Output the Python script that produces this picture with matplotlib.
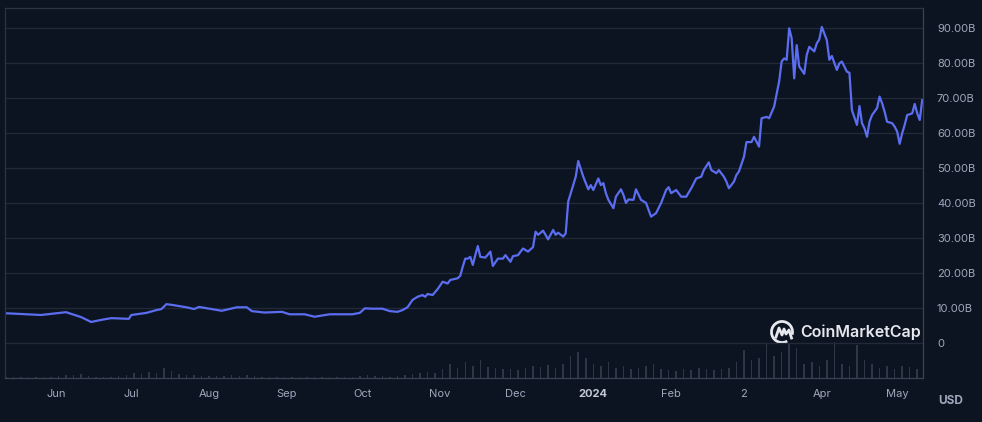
import matplotlib
matplotlib.use("Agg")
import matplotlib.pyplot as plt
import numpy as np
import pandas as pd
from matplotlib.patches import Arc

# ---------------- data ----------------
start_date = "2023-05-12"
# day offsets from start_date, and market cap (billions USD)
days = [0, 14, 24, 30, 34, 38, 42, 49, 50, 56, 60, 62, 64, 66, 72, 75, 77, 82, 86, 92,
        96, 98, 103, 110, 113, 119, 123, 129, 138, 141, 143, 146, 150, 153, 156, 158, 160,
        162, 164, 166, 167, 168, 170, 172, 174, 176, 177, 180, 181, 182, 183, 184, 185, 186,
        187, 188, 189, 191, 193, 194, 196, 198, 199, 201, 202, 204, 206, 208, 210, 211, 212,
        214, 216, 218, 219, 220, 222, 223, 224, 227, 228, 230, 232, 233, 234, 236, 237, 238,
        239, 240, 242, 243, 245, 246, 247, 248, 250, 251, 253, 255, 257, 259, 261, 263, 264,
        265, 267, 269, 271, 273, 275, 277, 278, 280, 281, 283, 284, 286, 287, 288, 290, 291,
        292, 294, 295, 297, 298, 300, 301, 303, 304, 306, 308, 309, 310, 311, 312, 313, 314,
        315, 316, 318, 319, 320, 322, 323, 324, 325, 327, 328, 329, 331, 332, 333, 335, 336,
        337, 339, 340, 341, 342, 343, 344, 345, 347, 348, 349, 350, 351, 353, 354, 355, 356,
        357, 358, 359, 361, 362, 363, 364, 365]
market_cap = [8.5, 8.0, 8.8, 7.4, 6.0, 6.6, 7.1, 6.9, 8.0, 8.6, 9.4, 9.7, 11.1, 10.9, 10.2,
              9.7, 10.3, 9.7, 9.2, 10.2, 10.2, 9.1, 8.7, 8.9, 8.2, 8.2, 7.5, 8.2, 8.2, 8.6,
              9.9, 9.8, 9.8, 9.1, 8.9, 9.4, 10.2, 12.3, 13.2, 13.7, 13.2, 14.0, 13.7, 15.4,
              17.5, 17.0, 18.0, 18.5, 19.2, 21.8, 24.1, 24.1, 24.6, 22.3, 25.1, 27.7, 24.6,
              24.4, 26.1, 22.0, 24.1, 24.1, 25.1, 23.2, 24.8, 25.1, 27.0, 26.1, 27.4, 31.8,
              30.9, 32.1, 29.6, 32.3, 30.9, 31.5, 30.4, 31.3, 40.4, 47.5, 52.0, 47.5, 43.9,
              45.1, 43.7, 47.0, 45.1, 45.7, 42.8, 40.9, 38.5, 41.8, 43.9, 42.3, 40.0, 41.0,
              40.9, 43.9, 40.9, 40.0, 36.1, 37.1, 40.0, 43.7, 44.5, 42.8, 43.7, 41.8, 41.8,
              44.2, 47.0, 47.5, 49.4, 51.6, 49.4, 48.5, 49.4, 47.5, 46.1, 44.2, 46.1, 48.0,
              49.0, 53.2, 57.4, 57.4, 58.9, 56.1, 64.2, 64.6, 64.2, 67.5, 74.7, 80.4, 81.3,
              80.9, 89.9, 87.0, 75.6, 85.1, 79.0, 76.9, 82.3, 84.6, 83.3, 85.6, 86.7, 90.3,
              86.5, 80.9, 82.0, 78.0, 79.9, 80.4, 77.5, 77.2, 66.5, 62.3, 67.7, 62.8, 61.3,
              58.9, 63.2, 65.1, 67.1, 70.4, 68.5, 66.1, 63.2, 62.8, 61.8, 60.4, 56.9, 59.9,
              62.3, 65.1, 65.6, 68.3, 65.6, 63.7, 69.4]

# trading volume (billions USD), one bar every 3 days from start_date
volume = [0.2, 0.2, 0.2, 0.2, 0.2, 0.3, 0.3, 0.4, 0.6, 0.6, 0.8, 0.4, 0.3, 0.3, 0.3, 0.4,
          0.6, 1.0, 0.8, 1.2, 1.0, 2.0, 1.4, 0.8, 0.6, 0.6, 0.4, 0.4, 0.4, 0.5, 0.6, 0.5,
          0.6, 0.4, 0.3, 0.3, 0.3, 0.3, 0.3, 0.2, 0.2, 0.2, 0.2, 0.2, 0.2, 0.2, 0.2, 0.4,
          0.6, 0.4, 0.4, 0.3, 0.4, 0.6, 0.8, 1.0, 1.2, 1.0, 1.8, 2.8, 2.0, 3.2, 2.4, 3.6,
          2.2, 2.0, 1.8, 1.8, 1.6, 2.0, 2.4, 2.2, 2.6, 2.0, 2.8, 4.4, 5.2, 4.0, 2.8, 2.4,
          3.2, 2.0, 2.4, 1.8, 2.0, 2.4, 2.8, 1.8, 1.6, 1.4, 1.8, 1.6, 2.0, 1.8, 1.6, 1.8,
          2.0, 3.2, 5.6, 3.6, 4.0, 6.8, 4.4, 5.2, 7.0, 6.0, 2.8, 3.2, 2.4, 3.6, 7.2, 2.8,
          2.4, 6.6, 3.6, 2.8, 2.0, 2.4, 1.8, 2.4, 2.2, 1.8]
volume_step_days = 3

x_tick_dates = ["2023-06-01", "2023-07-01", "2023-08-01", "2023-09-01", "2023-10-01",
                "2023-11-01", "2023-12-01", "2024-01-01", "2024-02-01", "2024-03-01",
                "2024-04-01", "2024-05-01"]
x_tick_labels = ["Jun", "Jul", "Aug", "Sep", "Oct", "Nov", "Dec", "2024", "Feb", "2",
                 "Apr", "May"]
y_ticks = [0, 10, 20, 30, 40, 50, 60, 70, 80, 90]
y_tick_labels = ["0", "10.00B", "20.00B", "30.00B", "40.00B", "50.00B", "60.00B",
                 "70.00B", "80.00B", "90.00B"]

# ---------------- style ----------------
BG = "#0d1421"
GRID = "#222a3a"
TEXT = "#a1a7bb"
LINE = "#5b6df0"
VOL = "#2f3648"

plt.rcParams["font.family"] = ["Inter", "DejaVu Sans"]

W, H = 982, 422
fig = plt.figure(figsize=(W / 100, H / 100), dpi=100, facecolor=BG)
left, right, top, bottom = 5, 923, 8, 378
ax = fig.add_axes([left / W, 1 - bottom / H, (right - left) / W, (bottom - top) / H])
ax.set_facecolor(BG)

t0 = pd.Timestamp(start_date)
dates = t0 + pd.to_timedelta(days, unit="D")
vol_dates = t0 + pd.to_timedelta(np.arange(len(volume)) * volume_step_days, unit="D")
end = t0 + pd.to_timedelta(365.3, unit="D")

# volume on a twin axis (bottom band)
axv = ax.twinx()
axv.set_zorder(1)
ax.set_zorder(2)
ax.patch.set_visible(False)
axv.set_facecolor(BG)
axv.bar(vol_dates, volume, width=0.6, color=VOL, linewidth=0, align="center")
axv.set_ylim(0, 74)
axv.set_yticks([])
for s in axv.spines.values():
    s.set_visible(False)

ax.plot(dates, market_cap, color=LINE, linewidth=1.6, solid_joinstyle="round")

ax.set_xlim(t0 - pd.Timedelta(days=0.3), end)
ax.set_ylim(-10, 95.7)

for v in y_ticks:
    ax.axhline(v, color=GRID, linewidth=0.9, zorder=0)

ax.yaxis.tick_right()
ax.set_yticks(y_ticks)
ax.set_yticklabels(y_tick_labels)
ax.tick_params(axis="y", length=0, pad=10, labelsize=8, labelcolor=TEXT)

ax.set_xticks(pd.to_datetime(x_tick_dates))
ax.set_xticklabels(x_tick_labels)
ax.tick_params(axis="x", length=0, pad=8, labelsize=8, labelcolor=TEXT)
for lbl in ax.get_xticklabels():
    if lbl.get_text() == "2024":
        lbl.set_fontweight("bold")
        lbl.set_color("#c3c8d6")

for name, s in ax.spines.items():
    s.set_color("#2c3344")
    s.set_linewidth(0.9)
ax.spines["right"].set_color("#3a4152")
ax.spines["bottom"].set_color("#3a4152")

# USD label
fig.text(951 / W, 1 - 401 / H, "USD", color=TEXT, fontsize=8.5, fontweight="bold",
         ha="center", va="center")

# CoinMarketCap watermark
cx, cy, r = 782, 332, 10.5
logo_ax = fig.add_axes([(cx - 14) / W, 1 - (cy + 14) / H, 28 / W, 28 / H])
logo_ax.set_xlim(-14, 14)
logo_ax.set_ylim(-14, 14)
logo_ax.axis("off")
logo_ax.add_patch(Arc((0, 0), 2 * r, 2 * r, theta1=-15, theta2=300, color="#e6e8ee",
                      linewidth=2.0))
logo_ax.plot([-6, -3, 0, 2, 4, 7, 9.5], [-5, 4, -3, 3, -2, 2, -6],
             color="#e6e8ee", linewidth=2.0, solid_joinstyle="round")
fig.text(800 / W, 1 - 332 / H, "CoinMarketCap", color="#e6e8ee", fontsize=11.5,
         fontweight="semibold", ha="left", va="center")

fig.savefig("out.png", dpi=100, facecolor=BG)
